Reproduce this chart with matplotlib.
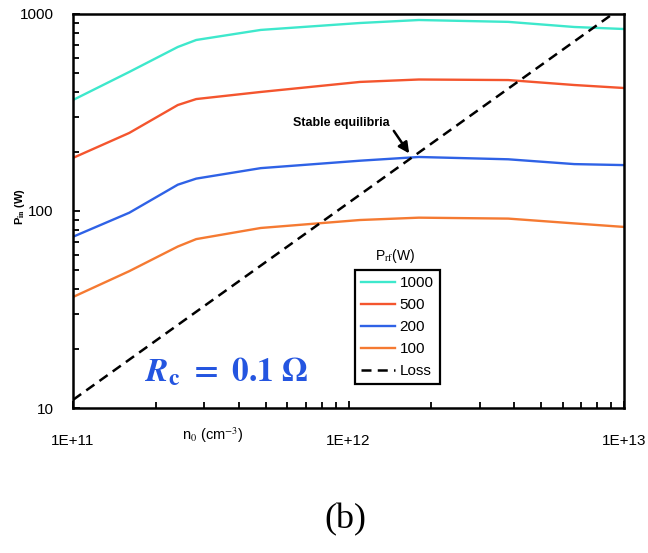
import matplotlib
matplotlib.use("Agg")
import matplotlib.pyplot as plt
from matplotlib.ticker import FixedLocator, NullFormatter, LogLocator

plt.rcParams['font.family'] = ['Liberation Sans', 'DejaVu Sans']
plt.rcParams['mathtext.fontset'] = 'stix'

# electron density grid (cm^-3)
density = [1.0e11, 1.6e11, 2.4e11, 2.8e11, 4.8e11, 1.1e12, 1.8e12, 3.8e12, 6.6e12, 1.0e13]

# absorbed power P_in (W) for each P_rf
p_1000 = [366, 508, 680, 738, 830, 900, 932, 912, 859, 839]
p_500 = [186, 249, 345, 370, 402, 452, 465, 462, 436, 421]
p_200 = [74, 98, 136, 146, 165, 180, 188, 183, 173, 171]
p_100 = [36.6, 49.5, 66, 72, 82, 90, 92.5, 91.5, 86.5, 83]

# power loss line
loss_density = [1.0e11, 1.0e13]
loss_power = [11, 1100]

series = [("1000", p_1000, "#3ee8cc"),
          ("500", p_500, "#f4552e"),
          ("200", p_200, "#2f62e6"),
          ("100", p_100, "#f57a32")]

xticks = [1e11, 1e12, 1e13]
xticklabels = ["1E+11", "1E+12", "1E+13"]
yticks = [10, 100, 1000]
yticklabels = ["10", "100", "1000"]

fig = plt.figure(figsize=(6.48, 5.53), dpi=100)
ax = fig.add_axes([0.1127, 0.2622, 0.8503, 0.7125])

for label, vals, col in series:
    ax.plot(density, vals, color=col, lw=1.7, label=label)
ax.plot(loss_density, loss_power, color="black", lw=1.8,
        dashes=(4, 2.5), label="Loss")

ax.set_xscale("log")
ax.set_yscale("log")
ax.set_xlim(1e11, 1e13)
ax.set_ylim(10, 1000)

ax.xaxis.set_major_locator(FixedLocator(xticks))
ax.set_xticklabels(xticklabels)
ax.yaxis.set_major_locator(FixedLocator(yticks))
ax.set_yticklabels(yticklabels)
ax.xaxis.set_minor_locator(LogLocator(base=10, subs=range(2, 10)))
ax.yaxis.set_minor_locator(LogLocator(base=10, subs=range(2, 10)))
ax.xaxis.set_minor_formatter(NullFormatter())
ax.yaxis.set_minor_formatter(NullFormatter())

ax.tick_params(which="both", direction="in", top=False, right=False,
               width=1.3, labelsize=11)
ax.tick_params(which="major", length=5)
ax.tick_params(which="minor", length=4)
ax.tick_params(axis="x", pad=19)
ax.tick_params(axis="y", pad=14)
for sp in ax.spines.values():
    sp.set_linewidth(1.8)

# axis labels placed like in the original figure
fig.text(213 / 648, 1 - 435 / 553, r"n$_0$ (cm$^{-3}$)", ha="center", va="center",
         fontsize=10.5)
fig.text(20 / 648, 1 - 206 / 553, r"P$_{\mathbf{in}}$ (W)", ha="center", va="center",
         rotation=90, fontsize=8, fontweight="bold")

# annotation
ax.text(9.4e11, 280, "Stable equilibria", ha="center", va="center",
        fontsize=9, fontweight="bold")
ax.annotate("", xy=(1.66e12, 196), xytext=(1.46e12, 255),
            arrowprops=dict(arrowstyle="-|>", color="black", lw=1.8,
                            shrinkA=0, shrinkB=0, mutation_scale=16))

ax.text(0.278, 0.092, r"$\mathbfit{R}_{\mathbf{c}}\mathbf{\ =\ 0.1\ \Omega}$",
        transform=ax.transAxes, ha="center", va="center", fontsize=24,
        color="#2455e0")

leg = ax.legend(loc="upper left", bbox_to_anchor=(0.512, 0.35),
                fontsize=11, frameon=True, fancybox=False, framealpha=1,
                edgecolor="black", handlelength=2.2, handletextpad=0.3,
                labelspacing=0.52, borderpad=0.4, borderaxespad=0)
leg.get_frame().set_linewidth(1.6)
ax.text(0.585, 0.385, r"P$_{\rm rf}$(W)", transform=ax.transAxes,
        ha="center", va="center", fontsize=10)

fig.text(0.533, 1 - 520 / 553, "(b)", ha="center", va="center",
         fontsize=26, family="Liberation Serif")

fig.savefig("out.png", dpi=100)
